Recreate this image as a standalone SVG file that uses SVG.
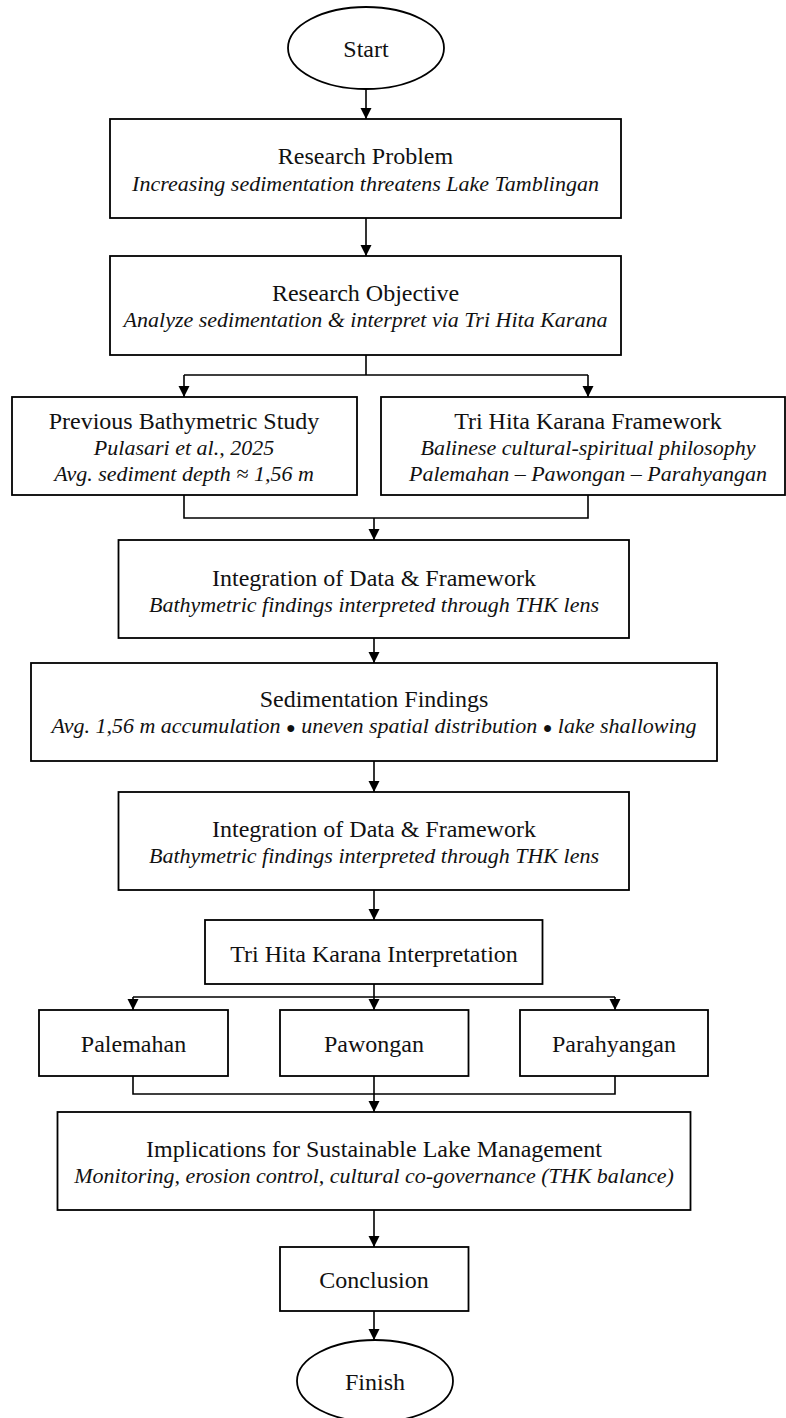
<svg xmlns="http://www.w3.org/2000/svg" width="786" height="1418" viewBox="0 0 786 1418">
<style>
.box{fill:#fff;stroke:#000;stroke-width:1.8}
.ln{fill:none;stroke:#000;stroke-width:1.6}
.t{font-family:"Liberation Serif","Times New Roman",serif;font-size:24px;fill:#111;text-anchor:middle}
.i{font-family:"Liberation Serif","Times New Roman",serif;font-size:22px;font-style:italic;fill:#111;text-anchor:middle}
.b{font-size:16px;font-style:normal}
</style>
<defs>
<marker id="ah" markerUnits="userSpaceOnUse" markerWidth="12" markerHeight="12" refX="11" refY="6" orient="auto">
<path d="M0,0.5 L11,6 L0,11.5 z" fill="#000"/>
</marker>
</defs>
<rect width="786" height="1418" fill="#fff"/>
<g id="connectors">
<path class="ln" d="M366,89 V119" marker-end="url(#ah)"/>
<path class="ln" d="M366,218 V256" marker-end="url(#ah)"/>
<path class="ln" d="M366,355 V375 M184,375 H588"/>
<path class="ln" d="M184,375 V397" marker-end="url(#ah)"/>
<path class="ln" d="M588,375 V397" marker-end="url(#ah)"/>
<path class="ln" d="M184,495 V518 H588 V495"/>
<path class="ln" d="M374,518 V540" marker-end="url(#ah)"/>
<path class="ln" d="M374,638 V663" marker-end="url(#ah)"/>
<path class="ln" d="M374,761 V792" marker-end="url(#ah)"/>
<path class="ln" d="M374,890 V920" marker-end="url(#ah)"/>
<path class="ln" d="M374,984 V997 M133,997 H615"/>
<path class="ln" d="M133,997 V1010" marker-end="url(#ah)"/>
<path class="ln" d="M374,997 V1010" marker-end="url(#ah)"/>
<path class="ln" d="M615,997 V1010" marker-end="url(#ah)"/>
<path class="ln" d="M133,1076 V1094 H615 V1076 M374,1076 V1094"/>
<path class="ln" d="M374,1094 V1112" marker-end="url(#ah)"/>
<path class="ln" d="M374,1210 V1247" marker-end="url(#ah)"/>
<path class="ln" d="M374,1311 V1340" marker-end="url(#ah)"/>
</g>
<g id="start">
<ellipse class="box" cx="366" cy="48" rx="78" ry="41"/>
<text class="t" x="366" y="57">Start</text>
</g>
<g id="problem">
<rect class="box" x="110" y="119" width="511" height="99"/>
<text class="t" x="365.5" y="164">Research Problem</text>
<text class="i" x="365.5" y="191">Increasing sedimentation threatens Lake Tamblingan</text>
</g>
<g id="objective">
<rect class="box" x="110" y="256" width="511" height="99"/>
<text class="t" x="365.5" y="301">Research Objective</text>
<text class="i" x="365.5" y="327">Analyze sedimentation &amp; interpret via Tri Hita Karana</text>
</g>
<g id="previous">
<rect class="box" x="12" y="397" width="345" height="98"/>
<text class="t" x="184" y="429">Previous Bathymetric Study</text>
<text class="i" x="184" y="455">Pulasari et al., 2025</text>
<text class="i" x="184" y="481">Avg. sediment depth ≈ 1,56 m</text>
</g>
<g id="thk-framework">
<rect class="box" x="381" y="397" width="404" height="98"/>
<text class="t" x="588" y="429">Tri Hita Karana Framework</text>
<text class="i" x="588" y="455">Balinese cultural-spiritual philosophy</text>
<text class="i" x="588" y="481">Palemahan – Pawongan – Parahyangan</text>
</g>
<g id="integration1">
<rect class="box" x="118.5" y="540" width="510.5" height="98"/>
<text class="t" x="374" y="586">Integration of Data &amp; Framework</text>
<text class="i" x="374" y="612">Bathymetric findings interpreted through THK lens</text>
</g>
<g id="findings">
<rect class="box" x="31" y="663" width="686" height="98"/>
<text class="t" x="374" y="707">Sedimentation Findings</text>
<text class="i" x="374" y="733">Avg. 1,56 m accumulation <tspan class="b">●</tspan> uneven spatial distribution <tspan class="b">●</tspan> lake shallowing</text>
</g>
<g id="integration2">
<rect class="box" x="118.5" y="792" width="510.5" height="98"/>
<text class="t" x="374" y="837">Integration of Data &amp; Framework</text>
<text class="i" x="374" y="863">Bathymetric findings interpreted through THK lens</text>
</g>
<g id="thk-interpretation">
<rect class="box" x="205" y="920" width="337.5" height="64"/>
<text class="t" x="374" y="962">Tri Hita Karana Interpretation</text>
</g>
<g id="palemahan">
<rect class="box" x="39" y="1010" width="189" height="66"/>
<text class="t" x="133.5" y="1052">Palemahan</text>
</g>
<g id="pawongan">
<rect class="box" x="280" y="1010" width="188.5" height="66"/>
<text class="t" x="374" y="1052">Pawongan</text>
</g>
<g id="parahyangan">
<rect class="box" x="520" y="1010" width="188" height="66"/>
<text class="t" x="614" y="1052">Parahyangan</text>
</g>
<g id="implications">
<rect class="box" x="57.5" y="1112" width="633" height="98"/>
<text class="t" x="374" y="1157">Implications for Sustainable Lake Management</text>
<text class="i" x="374" y="1183">Monitoring, erosion control, cultural co-governance (THK balance)</text>
</g>
<g id="conclusion">
<rect class="box" x="280" y="1247" width="188.5" height="64"/>
<text class="t" x="374" y="1288">Conclusion</text>
</g>
<g id="finish">
<ellipse class="box" cx="375" cy="1381" rx="78" ry="41"/>
<text class="t" x="375" y="1390">Finish</text>
</g>
</svg>
